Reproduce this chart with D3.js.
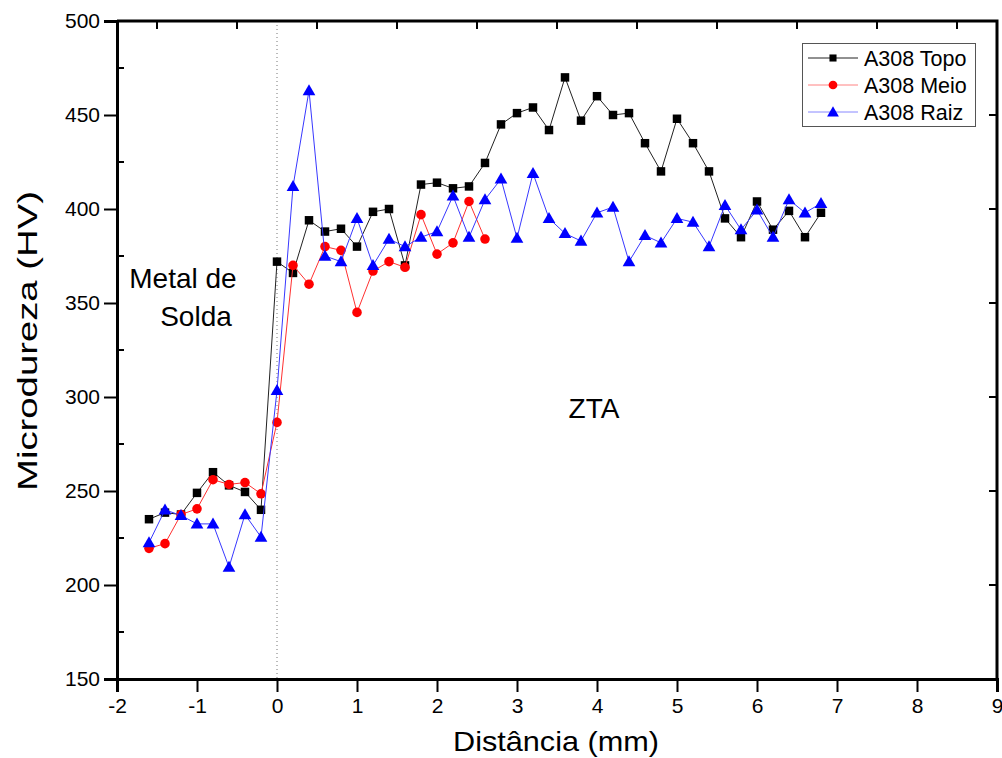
<!DOCTYPE html>
<html>
<head>
<meta charset="utf-8">
<script src="https://cdn.jsdelivr.net/npm/d3@7"></script>
<style>
  html, body { margin: 0; padding: 0; background: #fff; }
  svg { display: block; font-family: Arial, "Liberation Sans", sans-serif; }
</style>
</head>
<body>
<svg id="chart" width="1002" height="758"></svg>
<script>
// Distance positions (mm)
const xTopo = [-1.6,-1.4,-1.2,-1.0,-0.8,-0.6,-0.4,-0.2,0,0.2,0.4,0.6,0.8,1.0,1.2,1.4,1.6,1.8,2.0,2.2,2.4,2.6,2.8,3.0,3.2,3.4,3.6,3.8,4.0,4.2,4.4,4.6,4.8,5.0,5.2,5.4,5.6,5.8,6.0,6.2,6.4,6.6,6.8];
const xMeio = [-1.6,-1.4,-1.2,-1.0,-0.8,-0.6,-0.4,-0.2,0,0.2,0.4,0.6,0.8,1.0,1.2,1.4,1.6,1.8,2.0,2.2,2.4,2.6];
const xRaiz = xTopo;

// Microhardness (HV)
const topo = [235,238.5,237.5,249,260,253,249.5,240,372,366,394,388,389.5,380,398.5,400,370,413,414,411,412,424.5,445,451,454,442,470,447,460,450,451,435,420,448,435,420,395,385,404,389,399,385,398];
const meio = [219.5,222,237.5,240.5,256,253.5,254.5,248.5,286.5,370,360,380,378,345,367,372,369,397,376,382,404,384];
const raiz = [222.5,240,237,232.5,232.5,209.5,237.5,225.5,303.5,412,463,375,372,395,370,384,380,385,388,407,385,405,416,384.5,419,395,387,383,398,401,372,386,382,395,393,380,402,389,399.5,385,405,398,403];

const seriesNames = ["A308 Topo", "A308 Meio", "A308 Raiz"];
const xTicks = [-2,-1,0,1,2,3,4,5,6,7,8,9];
const yTicks = [150,200,250,300,350,400,450,500];

const svg = d3.select("#chart");
const L = 117, R = 997, T = 21, B = 679;
const FONT = "Arial, 'Liberation Sans', sans-serif";

const x = d3.scaleLinear().domain([-2, 9]).range([L, R]);
const y = d3.scaleLinear().domain([150, 500]).range([B, T]);

// Dotted reference line at the fusion boundary
svg.append("line")
  .attr("x1", x(0)).attr("x2", x(0)).attr("y1", T).attr("y2", B)
  .attr("stroke", "#777").attr("stroke-width", 1).attr("stroke-dasharray", "1,3");

// Frame (top and right sides)
svg.append("path")
  .attr("d", `M${L},${T}H${R}V${B}`)
  .attr("fill", "none").attr("stroke", "#000").attr("stroke-width", 3);

// Bottom axis
const gx = svg.append("g").attr("transform", `translate(0,${B})`)
  .call(d3.axisBottom(x).tickValues(xTicks).tickSize(13).tickPadding(6).tickFormat(d => String(d)));
gx.select(".domain").attr("stroke-width", 3);
gx.selectAll(".tick line").attr("stroke-width", 2);
gx.selectAll(".tick text").attr("font-size", 21).attr("font-family", FONT).attr("fill", "#000");

// Left axis
const gy = svg.append("g").attr("transform", `translate(${L},0)`)
  .call(d3.axisLeft(y).tickValues(yTicks).tickSize(13).tickPadding(4).tickFormat(d => String(d)));
gy.select(".domain").attr("stroke-width", 3);
gy.selectAll(".tick line").attr("stroke-width", 2);
gy.selectAll(".tick text").attr("font-size", 21).attr("font-family", FONT).attr("fill", "#000");

// Minor ticks on the left axis (inward)
const yMinor = d3.range(175, 500, 50);
svg.append("g").selectAll("line").data(yMinor).join("line")
  .attr("x1", L).attr("x2", L + 7).attr("y1", d => y(d)).attr("y2", d => y(d))
  .attr("stroke", "#000").attr("stroke-width", 2);

// Inward ticks on the right axis
svg.append("g").selectAll("line").data(yTicks.slice(1, -1)).join("line")
  .attr("x1", R - 8).attr("x2", R).attr("y1", d => y(d)).attr("y2", d => y(d))
  .attr("stroke", "#000").attr("stroke-width", 2);

// Inward ticks on the top axis
const xTop = d3.range(-1.5, 9, 1);
svg.append("g").selectAll("line").data(xTop).join("line")
  .attr("x1", d => x(d)).attr("x2", d => x(d)).attr("y1", T).attr("y2", T + 8)
  .attr("stroke", "#000").attr("stroke-width", 2);

// Axis titles
svg.append("text")
  .attr("x", 556).attr("y", 751).attr("text-anchor", "middle")
  .attr("font-size", 28).attr("textLength", 206).attr("lengthAdjust", "spacingAndGlyphs")
  .text("Distância (mm)");
svg.append("text")
  .attr("transform", "translate(37,341) rotate(-90)").attr("text-anchor", "middle")
  .attr("font-size", 28).attr("textLength", 300).attr("lengthAdjust", "spacingAndGlyphs")
  .text("Microdureza (HV)");

// Region annotations
svg.append("text").attr("x", 183).attr("y", 288).attr("text-anchor", "middle")
  .attr("font-size", 28).text("Metal de");
svg.append("text").attr("x", 196).attr("y", 326).attr("text-anchor", "middle")
  .attr("font-size", 28).text("Solda");
svg.append("text").attr("x", 594).attr("y", 418).attr("text-anchor", "middle")
  .attr("font-size", 28).text("ZTA");

// Series
const series = [
  { name: seriesNames[0], xs: xTopo, ys: topo, color: "#000", line: "#222", shape: d3.symbolSquare, size: 72 },
  { name: seriesNames[1], xs: xMeio, ys: meio, color: "#ff0000", line: "#ff3030", shape: d3.symbolCircle, size: 72 },
  { name: seriesNames[2], xs: xRaiz, ys: raiz, color: "#0000ff", line: "#3838ff", shape: d3.symbolTriangle, size: 70 }
];

const lineGen = d3.line().x(d => x(d[0])).y(d => y(d[1]));

series.forEach(s => {
  const pts = s.xs.map((v, i) => [v, s.ys[i]]);
  svg.append("path").datum(pts)
    .attr("d", lineGen).attr("fill", "none")
    .attr("stroke", s.line).attr("stroke-width", 1);
  svg.append("g").selectAll("path").data(pts).join("path")
    .attr("d", d3.symbol().type(s.shape).size(s.size))
    .attr("transform", d => `translate(${x(d[0])},${y(d[1]) + (s.shape === d3.symbolTriangle ? 1 : 0)})`)
    .attr("fill", s.color);
});

// Legend
const lg = svg.append("g");
lg.append("rect").attr("x", 802.5).attr("y", 43.5).attr("width", 173).attr("height", 83)
  .attr("fill", "#fff").attr("stroke", "#555").attr("stroke-width", 1);
series.forEach((s, i) => {
  const cy = 58 + i * 27;
  lg.append("line").attr("x1", 808).attr("x2", 858).attr("y1", cy).attr("y2", cy)
    .attr("stroke", s.line).attr("stroke-opacity", i === 0 ? 1 : 0.6).attr("stroke-width", 1);
  lg.append("path").attr("d", d3.symbol().type(s.shape).size(i === 0 ? 50 : 60))
    .attr("transform", `translate(833,${cy + (i === 2 ? 1 : 0)})`).attr("fill", s.color);
  lg.append("text").attr("x", 864).attr("y", cy + 8).attr("font-size", 21.5).text(s.name);
});
</script>
</body>
</html>
